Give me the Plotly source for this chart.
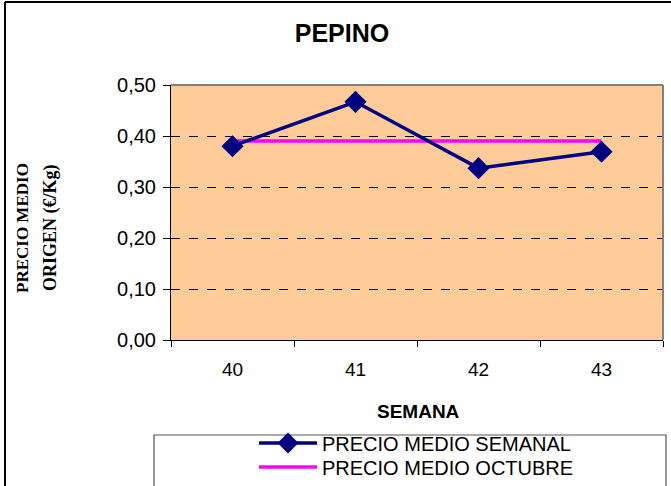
import plotly.graph_objects as go

semanas = ["40", "41", "42", "43"]
precio_semanal = [0.38, 0.467, 0.337, 0.369]
precio_octubre = [0.39, 0.39, 0.39, 0.39]
y_ticks = [0.0, 0.1, 0.2, 0.3, 0.4, 0.5]

# figure is a bit taller than the window; the bottom rows are cropped as in the reference
W, H = 671, 510
L, R, T, B = 171, 663, 85, 340

def px(x):
    return (x - L) / (R - L)

def py(y):
    return (B - y) / (B - T)

fig = go.Figure()
fig.add_trace(go.Scatter(
    x=semanas, y=precio_octubre, mode="lines", name="PRECIO MEDIO OCTUBRE",
    line=dict(color="#FF00FF", width=3.5), legend="legend2"))
fig.add_trace(go.Scatter(
    x=semanas, y=precio_semanal, mode="lines+markers", name="PRECIO MEDIO SEMANAL",
    line=dict(color="#000080", width=3.5),
    marker=dict(symbol="diamond", size=17, color="#000080"), legend="legend"))

leg_common = dict(
    xanchor="left", yanchor="middle",
    bgcolor="rgba(0,0,0,0)", borderwidth=0,
    font=dict(size=20, family="Liberation Sans, Arial"),
    tracegroupgap=0, itemwidth=58)

fig.update_layout(
    width=W, height=H,
    margin=dict(l=L, r=W - R, t=T, b=H - B, pad=0),
    paper_bgcolor="white", plot_bgcolor="#FFCC99",
    separators=",.",
    font=dict(family="Liberation Sans, Arial", size=20, color="black"),
    showlegend=True,
    legend=dict(x=px(254), y=py(443), **leg_common),
    legend2=dict(x=px(254), y=py(467), **leg_common),
    title=dict(text="<b>PEPINO</b>", x=342 / W, xanchor="center",
               y=1 - 33 / H, yanchor="middle",
               font=dict(size=25, family="Liberation Sans, Arial")),
    shapes=[
        dict(type="rect", xref="paper", yref="paper",
             x0=px(154), x1=px(666), y0=py(505), y1=py(435),
             line=dict(color="#555555", width=1.2), fillcolor="rgba(0,0,0,0)"),
        dict(type="line", xref="paper", yref="paper",
             x0=px(5), x1=px(5), y0=py(2), y1=py(505),
             line=dict(color="black", width=2)),
        dict(type="line", xref="paper", yref="paper",
             x0=px(5), x1=px(680), y0=py(2), y1=py(2),
             line=dict(color="black", width=2)),
        dict(type="line", xref="paper", yref="paper", x0=0, x1=1, y0=1, y1=1,
             line=dict(color="#808080", width=2)),
        dict(type="line", xref="paper", yref="paper", x0=1, x1=1, y0=0, y1=1,
             line=dict(color="#808080", width=2)),
    ],
    annotations=[
        dict(text="<b>PRECIO MEDIO</b>", xref="paper", yref="paper",
             x=px(22), y=py(228), xanchor="center", yanchor="middle",
             textangle=-90, showarrow=False,
             font=dict(family="Liberation Serif, Times New Roman", size=17)),
        dict(text="<b>ORIGEN (€/Kg)</b>", xref="paper", yref="paper",
             x=px(50), y=py(228), xanchor="center", yanchor="middle",
             textangle=-90, showarrow=False,
             font=dict(family="Liberation Serif, Times New Roman", size=18)),
        dict(text="<b>SEMANA</b>", xref="paper", yref="paper",
             x=px(418), y=py(411), xanchor="center", yanchor="middle",
             showarrow=False,
             font=dict(family="Liberation Sans, Arial", size=19)),
    ],
)

fig.update_xaxes(
    type="category", range=[-0.5, 3.5], tickson="boundaries",
    ticks="outside", ticklen=6, tickcolor="black", tickwidth=1,
    showline=True, linecolor="black", linewidth=1, mirror=False,
    showgrid=False, tickfont=dict(size=19), ticklabelstandoff=12,
)
fig.update_yaxes(
    range=[0, 0.5], tickvals=y_ticks, tickformat=".2f",
    ticks="outside", ticklen=7, tickcolor="black",
    showline=True, linecolor="black", linewidth=1,
    showgrid=True, gridcolor="black", griddash="dash", gridwidth=1,
    zeroline=False, tickfont=dict(size=20), ticklabelstandoff=3,
)

fig.write_html("out.html", config={"displayModeBar": False},
               post_script="document.body.style.margin='0';document.body.style.overflow='hidden';")
